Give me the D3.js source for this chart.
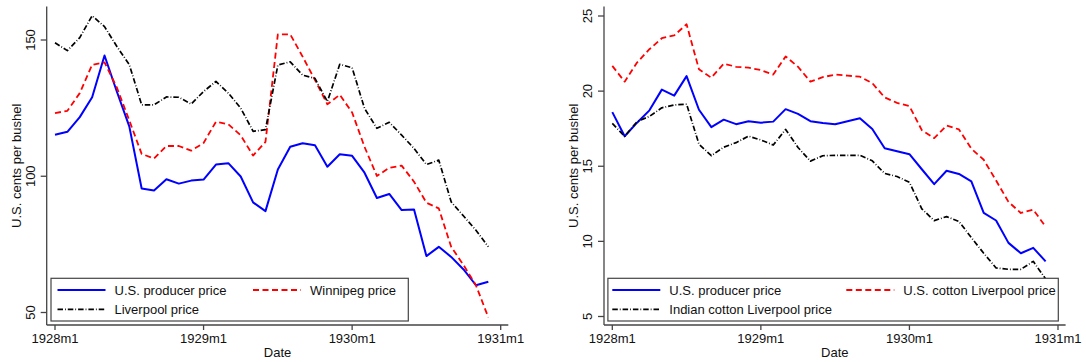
<!DOCTYPE html>
<html>
<head>
<meta charset="utf-8">
<script src="https://cdn.jsdelivr.net/npm/d3@7"></script>
<style>
  body { margin: 0; background: #fff; }
  text { font-family: "Liberation Sans", Arial, sans-serif; fill: #111; }
</style>
</head>
<body>
<script>
// months of the series (Stata style labels)
var months = ['1928m1','1928m2','1928m3','1928m4','1928m5','1928m6','1928m7','1928m8','1928m9','1928m10','1928m11','1928m12',
              '1929m1','1929m2','1929m3','1929m4','1929m5','1929m6','1929m7','1929m8','1929m9','1929m10','1929m11','1929m12',
              '1930m1','1930m2','1930m3','1930m4','1930m5','1930m6','1930m7','1930m8','1930m9','1930m10','1930m11','1930m12'];
var x_ticks = ['1928m1','1929m1','1930m1','1931m1'];

// left panel: wheat
var wheat_us_producer = [115.2,116.3,121.7,129.0,144.3,131.0,118.3,95.5,94.8,98.9,97.3,98.4,
                         98.8,104.3,104.8,99.9,90.4,87.2,102.5,110.8,112.1,111.4,103.5,108.1,
                         107.5,101.3,92.0,93.5,87.6,87.8,70.7,74.1,70.4,65.8,60.0,61.3];
var wheat_winnipeg = [123.2,124.0,130.5,140.9,141.8,132.5,120.5,108.2,106.5,111.1,111.1,109.4,
                      112.2,120.0,119.1,115.0,107.6,112.6,152.1,152.1,143.9,135.3,126.4,129.9,
                      123.4,110.8,100.1,103.1,103.9,98.0,90.3,88.2,74.1,67.4,60.0,48.2];
var wheat_liverpool = [149.0,146.1,150.9,158.9,154.9,147.6,141.0,126.2,126.2,129.1,129.0,126.5,
                       131.1,134.8,130.5,125.0,116.5,117.1,140.8,142.0,137.1,135.9,127.4,141.1,
                       139.8,124.9,117.6,119.8,115.1,110.2,104.3,105.9,90.6,85.4,80.2,74.1];
var wheat_y_ticks = [50, 100, 150];

// right panel: cotton
var cotton_us_producer = [18.6,17.0,17.9,18.72,20.1,19.7,21.0,18.76,17.6,18.1,17.8,18.0,
                          17.9,17.97,18.8,18.49,18.0,17.88,17.8,18.0,18.2,17.48,16.2,16.0,
                          15.8,14.8,13.81,14.7,14.49,13.99,11.89,11.39,9.9,9.21,9.57,8.67];
var cotton_us_liverpool = [21.68,20.63,21.9,22.79,23.52,23.71,24.45,21.45,20.89,21.83,21.62,21.56,
                           21.4,21.1,22.31,21.62,20.63,20.93,21.1,21.03,20.96,20.53,19.58,19.22,
                           19.0,17.4,16.87,17.71,17.45,16.17,15.43,14.05,12.63,11.89,12.11,10.98];
var cotton_indian_liverpool = [17.85,16.99,17.97,18.32,18.89,19.08,19.13,16.47,15.7,16.27,16.57,17.0,
                               16.75,16.41,17.45,16.25,15.34,15.7,15.73,15.73,15.73,15.36,14.52,14.32,
                               13.93,12.17,11.38,11.65,11.33,10.25,9.21,8.23,8.14,8.14,8.67,7.5];
var cotton_y_ticks = [5, 10, 15, 20, 25];

var y_title = 'U.S. cents per bushel';
var x_title = 'Date';

// line styles
var styles = {
  solid:   {color: '#0000ff', dash: null,          width: 2},
  dash:    {color: '#ff0000', dash: '6,3.5',       width: 1.8},
  dashdot: {color: '#000000', dash: '5.5,2,0.8,2', width: 1.7}
};

// "1929m3" -> month index from 1928m1
function month_index(s)  {
  var p = s.split('m');
  return (+p[0] - 1928) * 12 + (+p[1] - 1);
}

var svg = d3.select('body').append('svg').attr('width', 1086).attr('height', 362);

function draw_panel(cfg)  {
  var g = svg.append('g').attr('transform', 'translate(' + cfg.dx + ',0)');
  var axis_color = '#444';
  var left = 46.7, right = 508.3, top = 6.5, bottom = 325;

  var x_scale = d3.scaleLinear().domain([0, 36]).range([55, 500.7]);
  var y_scale = d3.scaleLinear().domain(cfg.y_domain).range(cfg.y_range);

  // lines
  var line = d3.line()
    .x(function(d, i) { return x_scale(month_index(months[i])); })
    .y(function(d) { return y_scale(d); });
  cfg.series.forEach(function(s)  {
    var st = styles[s.style];
    g.append('path').datum(s.values)
      .attr('d', line)
      .attr('fill', 'none')
      .attr('stroke', st.color)
      .attr('stroke-width', st.width)
      .attr('stroke-dasharray', st.dash)
      .attr('stroke-linejoin', 'round');
  });

  // y axis
  g.append('line').attr('x1', left).attr('x2', left).attr('y1', top).attr('y2', bottom)
    .attr('stroke', axis_color).attr('stroke-width', 1.3);
  g.selectAll('.ytick').data(cfg.y_ticks).enter().append('line')
    .attr('x1', left - 6).attr('x2', left)
    .attr('y1', d => y_scale(d)).attr('y2', d => y_scale(d))
    .attr('stroke', axis_color).attr('stroke-width', 1.3);
  g.selectAll('.ylab').data(cfg.y_ticks).enter().append('text')
    .attr('transform', d => 'translate(35,' + y_scale(d) + ') rotate(-90)')
    .attr('text-anchor', 'middle').style('font-size', '13px')
    .text(d => d);
  g.append('text').attr('transform', 'translate(20.7,' + ((top + bottom) / 2) + ') rotate(-90)')
    .attr('text-anchor', 'middle').style('font-size', '13px').text(y_title);

  // x axis
  g.append('line').attr('x1', left).attr('x2', right).attr('y1', bottom).attr('y2', bottom)
    .attr('stroke', axis_color).attr('stroke-width', 1.3);
  g.selectAll('.xtick').data(x_ticks).enter().append('line')
    .attr('x1', d => x_scale(month_index(d))).attr('x2', d => x_scale(month_index(d)))
    .attr('y1', bottom).attr('y2', bottom + 5)
    .attr('stroke', axis_color).attr('stroke-width', 1.3);
  g.selectAll('.xlab').data(x_ticks).enter().append('text')
    .attr('x', d => x_scale(month_index(d))).attr('y', 343.3)
    .attr('text-anchor', 'middle').style('font-size', '13px')
    .text(d => d);
  g.append('text').attr('x', (left + right) / 2).attr('y', 357)
    .attr('text-anchor', 'middle').style('font-size', '13px').text(x_title);

  // legend box (white, drawn over the lines)
  var lg = cfg.legend;
  g.append('rect').attr('x', lg.x0).attr('y', 278.3).attr('width', lg.x1 - lg.x0).attr('height', 42.7)
    .attr('fill', '#fff').attr('stroke', axis_color).attr('stroke-width', 1.2);
  // first two keys share the top row, third key goes under the first
  var slots = [[0, 290], [1, 290], [0, 309.3]];
  cfg.series.forEach(function(s, k)  {
    var st = styles[s.style];
    var sx = lg.cols[slots[k][0]], ry = slots[k][1];
    g.append('line').attr('x1', sx).attr('x2', sx + 48).attr('y1', ry).attr('y2', ry)
      .attr('stroke', st.color).attr('stroke-width', st.width)
      .attr('stroke-dasharray', st.dash);
    g.append('text').attr('x', sx + 57).attr('y', ry + 4.6)
      .style('font-size', '13px').text(s.name);
  });
}

draw_panel({
  dx: 0,
  y_domain: [50, 150], y_range: [312.5, 40],
  y_ticks: wheat_y_ticks,
  legend: {x0: 51, x1: 408.3, cols: [57.5, 253]},
  series: [
    {name: 'U.S. producer price', values: wheat_us_producer, style: 'solid'},
    {name: 'Winnipeg price', values: wheat_winnipeg, style: 'dash'},
    {name: 'Liverpool price', values: wheat_liverpool, style: 'dashdot'}
  ]
});

draw_panel({
  dx: 557.3,
  y_domain: [5, 25], y_range: [316.5, 16],
  y_ticks: cotton_y_ticks,
  legend: {x0: 50.6, x1: 501, cols: [55, 289]},
  series: [
    {name: 'U.S. producer price', values: cotton_us_producer, style: 'solid'},
    {name: 'U.S. cotton Liverpool price', values: cotton_us_liverpool, style: 'dash'},
    {name: 'Indian cotton Liverpool price', values: cotton_indian_liverpool, style: 'dashdot'}
  ]
});
</script>
</body>
</html>
